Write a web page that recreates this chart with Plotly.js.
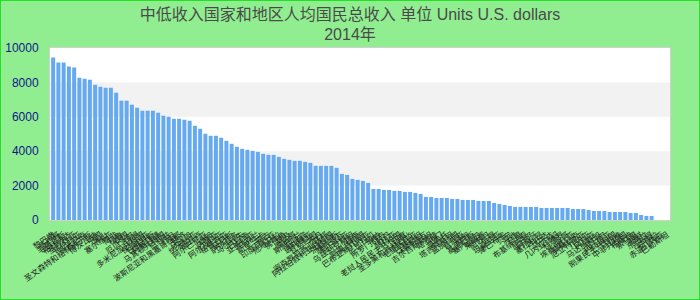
<!DOCTYPE html>
<html>
<head>
<meta charset="utf-8">
<script src="https://cdn.plot.ly/plotly-3.0.1.min.js"></script>
<style>
  html, body { margin: 0; padding: 0; background: #90EE90; }
  #wrap { position: relative; width: 700px; height: 300px; }
  #chart { width: 700px; height: 300px; }
  #frame { position: absolute; left: 0; top: 0; width: 700px; height: 300px; box-sizing: border-box; border: 1px solid #22e022; pointer-events: none; }
</style>
</head>
<body>
<div id="wrap"><div id="chart"></div><div id="frame"></div></div>
<script>
const titleMain = "中低收入国家和地区人均国民总收入 单位 Units U.S. dollars";
const titleSub = "2014年";

const countries = [
  "黎巴嫩","墨西哥","毛里求斯","格林纳达","圣卢西亚","哥伦比亚","多米尼克","圣文森特和格林纳丁斯","博茨瓦纳","中国",
  "黑山","塞尔维亚","南非","秘鲁","泰国","厄瓜多尔","伊朗","多米尼加共和国","保加利亚","白俄罗斯",
  "阿塞拜疆","马其顿共和国","伯利兹","约旦","波斯尼亚和黑塞哥维那","斐济","牙买加","纳米比亚","图瓦卢","阿尔巴尼亚",
  "汤加","萨摩亚","阿尔及利亚","格鲁吉亚","突尼斯","萨尔瓦多","马尔代夫","巴拉圭","亚美尼亚","乌克兰",
  "斯里兰卡","蒙古","印度尼西亚","危地马拉","佛得角","埃及","摩洛哥","斯威士兰","菲律宾","玻利维亚",
  "瓦努阿图","不丹","密克罗尼西亚联邦","阿拉伯叙利亚共和国","洪都拉斯","摩尔多瓦","尼日利亚","乌兹别克斯坦","越南","刚果共和国",
  "巴布亚新几内亚","尼加拉瓜","加纳","所罗门群岛","苏丹","赞比亚","老挝人民民主共和国","印度","圣多美和普林西比","毛里塔尼亚",
  "巴基斯坦","科特迪瓦","吉尔吉斯斯坦","喀麦隆","也门","莱索托","塔吉克斯坦","孟加拉国","肯尼亚","缅甸",
  "基里巴斯","塞内加尔","柬埔寨","南苏丹","乍得","坦桑尼亚","津巴布韦","贝宁","海地","马里",
  "布基纳法索","尼泊尔","阿富汗","塞拉利昂","卢旺达","乌干达","几内亚比绍","科摩罗","多哥","埃塞俄比亚",
  "莫桑比克","厄立特里亚","几内亚","冈比亚","马达加斯加","尼日尔","利比里亚","刚果民主共和国","马拉维","中非共和国",
  "布隆迪","索马里","朝鲜","东帝汶","吉布提","安哥拉","赤道几内亚","巴勒斯坦"
];

const values = [
  9443,9152,9152,8918,8860,8277,8219,8161,7869,7752,
  7694,7694,7403,6937,6937,6703,6528,6354,6354,6354,
  6237,6062,6004,5887,5887,5829,5771,5479,5304,5013,
  4896,4896,4780,4605,4430,4255,4139,4080,4022,3964,
  3847,3789,3789,3672,3556,3497,3439,3439,3381,3323,
  3148,3148,3148,3148,3031,2681,2623,2390,2332,2273,
  2157,1807,1807,1749,1749,1690,1690,1632,1632,1574,
  1516,1341,1341,1282,1282,1282,1224,1224,1166,1166,
  1166,1108,1108,1108,991,933,874,816,758,758,
  758,758,758,700,700,700,700,700,700,641,
  641,641,583,525,525,525,466,466,466,466,
  408,408,291,233,233,null,null,null
];

const yTicks = [0, 2000, 4000, 6000, 8000, 10000];

const font = "Liberation Sans, Arial, Noto Sans CJK SC, sans-serif";

const bands = [];
for (let i = 0; i + 1 < yTicks.length; i++) {
  if (i % 2 === 1) {
    bands.push({
      type: "rect", xref: "paper", yref: "y", layer: "below",
      x0: 0, x1: 1, y0: yTicks[i], y1: yTicks[i + 1],
      fillcolor: "#f2f2f2", line: { width: 0 }
    });
  }
}

const trace = {
  type: "bar",
  x: countries,
  y: values,
  marker: { color: "#65a9f1" },
  hoverinfo: "x+y"
};

const layout = {
  width: 700,
  height: 300,
  paper_bgcolor: "#90EE90",
  plot_bgcolor: "#ffffff",
  margin: { l: 50, r: 30, t: 48, b: 80, pad: 0 },
  showlegend: false,
  bargap: 0.24,
  font: { family: font, color: "#444" },
  title: {
    text: titleMain + "<br>" + titleSub,
    font: { size: 16, color: "#4a4a4a", family: font },
    x: 0.5, xanchor: "center",
    y: 0.935, yanchor: "top", yref: "container"
  },
  xaxis: {
    type: "category",
    range: [-0.6, countries.length - 0.5],
    tickmode: "linear", tick0: 0, dtick: 1,
    tickangle: -35,
    tickfont: { size: 8, color: "#222", family: font },
    showgrid: false,
    showline: true, linecolor: "#d0d0d0", linewidth: 1, mirror: true,
    ticks: "outside", ticklen: 6, tickcolor: "rgba(0,0,0,0)",
    zeroline: false, automargin: false
  },
  yaxis: {
    range: [0, 10000],
    tickvals: yTicks,
    ticktext: yTicks.map(String),
    tickfont: { size: 12, color: "#14148c", family: font },
    ticks: "outside", ticklen: 8, tickcolor: "rgba(0,0,0,0)",
    showgrid: false,
    showline: true, linecolor: "#d0d0d0", linewidth: 1, mirror: true,
    zeroline: false, automargin: false
  },
  shapes: bands
};

Plotly.newPlot("chart", [trace], layout, { displayModeBar: false, staticPlot: true });
</script>
</body>
</html>
